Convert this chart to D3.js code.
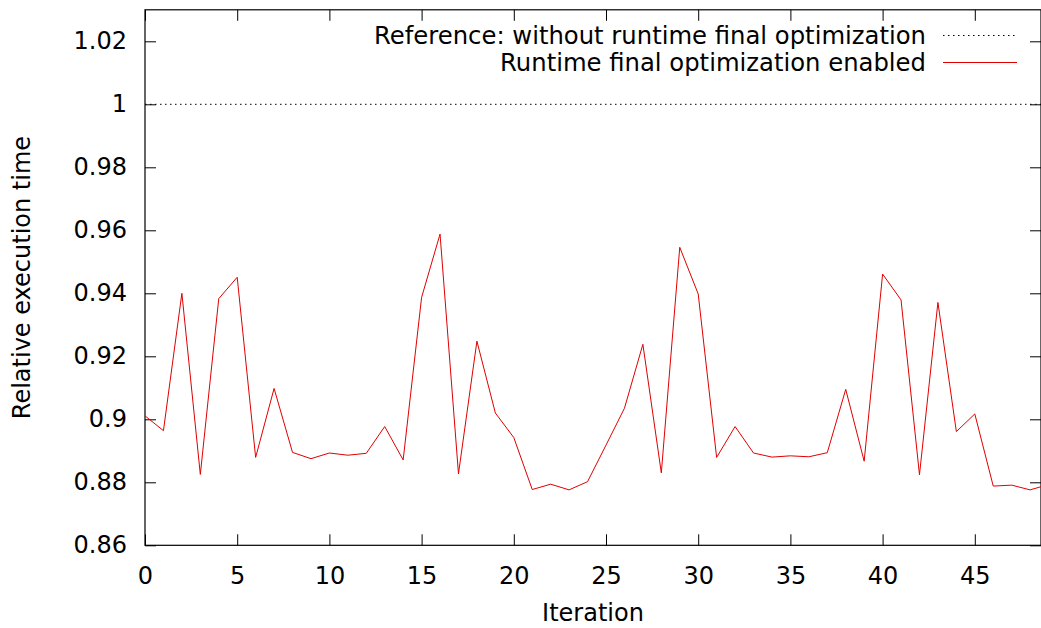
<!DOCTYPE html>
<html>
<head>
<meta charset="utf-8">
<script src="https://cdn.jsdelivr.net/npm/d3@7"></script>
<style>
  html, body { margin: 0; padding: 0; background: #fff; }
  svg text { font-family: "DejaVu Sans", sans-serif; font-size: 24px; fill: #000; }
</style>
</head>
<body>
<svg id="chart" width="1041" height="628"></svg>
<script>
// Relative execution time per iteration
var iterations = d3.range(0, 50);
var relativeTime = [
  0.9011, 0.8964, 0.9400, 0.8825, 0.9383, 0.9451, 0.8879, 0.9098, 0.8895, 0.8875,
  0.8893, 0.8886, 0.8892, 0.8977, 0.8871, 0.9387, 0.9588, 0.8827, 0.9248, 0.9020,
  0.8942, 0.8777, 0.8794, 0.8776, 0.8802, 0.8918, 0.9035, 0.9238, 0.8830, 0.9546,
  0.9398, 0.8879, 0.8977, 0.8893, 0.8880, 0.8884, 0.8881, 0.8894, 0.9095, 0.8867,
  0.9461, 0.9379, 0.8824, 0.9371, 0.8961, 0.9017, 0.8788, 0.8791, 0.8776, 0.8793
];
var referenceValue = 1.0;
var xTicks = [0, 5, 10, 15, 20, 25, 30, 35, 40, 45];
var yTicks = [0.86, 0.88, 0.90, 0.92, 0.94, 0.96, 0.98, 1.00, 1.02];
var legendLabels = [
  "Reference: without runtime final optimization",
  "Runtime final optimization enabled"
];

(function () {
  "use strict";

  var svg = d3.select("#chart");
  var left = 145, right = 1041, plotTop = 9.8, plotBottom = 545.3;

  var x = d3.scaleLinear().domain([0, 48.59]).range([left, right]);
  var y = d3.scaleLinear().domain([0.86, 1.03]).range([plotBottom, plotTop]);

  svg.append("defs").append("clipPath").attr("id", "plotclip")
    .append("rect").attr("x", left).attr("y", plotTop)
    .attr("width", right - left).attr("height", plotBottom - plotTop);

  var fmt = d3.format("~g");
  var tick = 11;

  function styleAxis(g) {
    g.select(".domain").remove();
    g.selectAll(".tick line").attr("stroke", "#000").attr("stroke-width", 1);
    g.attr("font-size", null).attr("font-family", null);
  }

  svg.append("g").attr("transform", "translate(0," + plotBottom + ")")
    .call(d3.axisBottom(x).tickValues(xTicks).tickSize(-tick).tickPadding(22).tickFormat(fmt))
    .call(styleAxis);

  svg.append("g").attr("transform", "translate(0," + plotTop + ")")
    .call(d3.axisTop(x).tickValues(xTicks).tickSize(-tick).tickFormat(""))
    .call(styleAxis);

  svg.append("g").attr("transform", "translate(" + left + ",0)")
    .call(d3.axisLeft(y).tickValues(yTicks).tickSize(-tick).tickPadding(18).tickFormat(fmt))
    .call(styleAxis);

  svg.append("g").attr("transform", "translate(" + right + ",0)")
    .call(d3.axisRight(y).tickValues(yTicks).tickSize(-tick).tickFormat(""))
    .call(styleAxis);

  // border
  svg.append("rect")
    .attr("x", left).attr("y", plotTop)
    .attr("width", right - left).attr("height", plotBottom - plotTop)
    .attr("fill", "none").attr("stroke", "#000").attr("stroke-width", 1.2);

  var plot = svg.append("g").attr("clip-path", "url(#plotclip)");

  plot.append("line")
    .attr("x1", left).attr("x2", right)
    .attr("y1", y(referenceValue)).attr("y2", y(referenceValue))
    .attr("stroke", "#000").attr("stroke-width", 1).attr("stroke-dasharray", "1.5,3.5");

  var line = d3.line()
    .x(function (d, i) { return x(iterations[i]); })
    .y(function (d) { return y(d); });

  plot.append("path")
    .datum(relativeTime)
    .attr("d", line)
    .attr("fill", "none")
    .attr("stroke", "#e00000")
    .attr("stroke-width", 1);

  // legend
  var legend = svg.append("g");
  legendLabels.forEach(function (label, i) {
    var ly = 35.5 + i * 27;
    legend.append("text")
      .attr("x", 926).attr("y", ly).attr("dy", "0.35em")
      .attr("text-anchor", "end")
      .style("font-size", "24.3px")
      .text(label);
    legend.append("line")
      .attr("x1", 943).attr("x2", 1017)
      .attr("y1", ly).attr("y2", ly)
      .attr("stroke", i === 0 ? "#000" : "#e00000")
      .attr("stroke-width", 1)
      .attr("stroke-dasharray", i === 0 ? "1.5,3.5" : null);
  });

  // axis titles
  svg.append("text")
    .attr("x", (left + right) / 2).attr("y", 621)
    .attr("text-anchor", "middle")
    .text("Iteration");

  svg.append("text")
    .attr("transform", "translate(22," + (plotTop + plotBottom) / 2 + ") rotate(-90)")
    .attr("dy", "0.35em")
    .attr("text-anchor", "middle")
    .text("Relative execution time");
})();
</script>
</body>
</html>
